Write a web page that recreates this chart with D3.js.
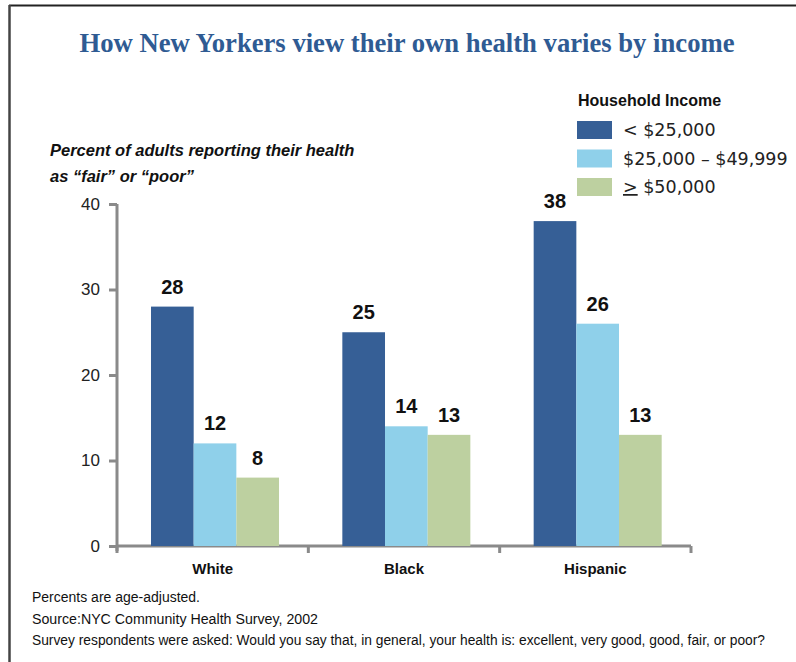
<!DOCTYPE html>
<html>
<head>
<meta charset="utf-8">
<script src="https://cdn.jsdelivr.net/npm/d3@7/dist/d3.min.js"></script>
<style>
  html, body { margin: 0; padding: 0; background: #fff; }
  svg { display: block; }
</style>
</head>
<body>
<script>
// Self-rated health by household income and race/ethnicity (NYC CHS 2002)
const groups = ["White", "Black", "Hispanic"];
const incomeBands = ["< $25,000", "$25,000 – $49,999", "≥ $50,000"];
const under25k = [28, 25, 38];
const from25to50k = [12, 14, 26];
const over50k = [8, 13, 13];
const yTicks = [0, 10, 20, 30, 40];
const colors = ["#365f96", "#8fd0ea", "#bdd0a0"];

const series = [under25k, from25to50k, over50k];
const rows = groups.map((g, i) => ({ group: g, values: series.map(s => s[i]) }));

const W = 796, H = 662;
const svg = d3.select("body").append("svg").attr("width", W).attr("height", H);

// frame: top and left rules
svg.append("line").attr("x1", 9).attr("x2", W).attr("y1", 5.5).attr("y2", 5.5)
  .attr("stroke", "#222").attr("stroke-width", 2);
svg.append("line").attr("x1", 9.5).attr("x2", 9.5).attr("y1", 5).attr("y2", H)
  .attr("stroke", "#444").attr("stroke-width", 2.5);

// title
svg.append("text")
  .attr("x", 407).attr("y", 52)
  .attr("text-anchor", "middle")
  .attr("font-family", "'Liberation Serif', 'DejaVu Serif', serif")
  .attr("font-weight", "bold")
  .attr("font-size", 28)
  .attr("fill", "#2f5b93")
  .attr("textLength", 655).attr("lengthAdjust", "spacingAndGlyphs")
  .text("How New Yorkers view their own health varies by income");

// scales
const x0 = d3.scaleBand().domain(groups).range([117, 691]).padding(0);
const x1 = d3.scaleBand().domain(d3.range(3)).range([0, x0.bandwidth()])
  .paddingInner(0).paddingOuter(0.742).align(0.537);
const y = d3.scaleLinear().domain([0, 40]).range([546, 204]);

// y axis
const yAxis = d3.axisLeft(y).tickValues(yTicks).tickSize(8).tickPadding(9);
const gy = svg.append("g").attr("transform", "translate(117,0)").call(yAxis);
gy.select(".domain").attr("d", `M0,${y(40)}V${y(0) + 5}`);
gy.selectAll(".domain, .tick line").attr("stroke", "#8a8a8a").attr("stroke-width", 3);
gy.selectAll(".tick text")
  .attr("font-family", "'Liberation Sans', Arial, sans-serif")
  .attr("font-size", 17).attr("fill", "#222");

// x axis: ticks at band boundaries
const boundaries = groups.map(g => x0(g)).concat([x0.range()[1]]);
const gx = svg.append("g");
gx.append("line").attr("x1", 117).attr("x2", 691).attr("y1", y(0)).attr("y2", y(0))
  .attr("stroke", "#8a8a8a").attr("stroke-width", 3);
gx.selectAll("line.tk").data(boundaries).join("line").attr("class", "tk")
  .attr("x1", d => d).attr("x2", d => d)
  .attr("y1", y(0)).attr("y2", y(0) + 7)
  .attr("stroke", "#8a8a8a").attr("stroke-width", 3);
gx.selectAll("text").data(groups).join("text")
  .attr("x", d => x0(d) + x0.bandwidth() / 2)
  .attr("y", 574)
  .attr("text-anchor", "middle")
  .attr("font-family", "'Liberation Sans Narrow', 'Liberation Sans', Arial, sans-serif")
  .attr("font-weight", "bold")
  .attr("font-size", 15).attr("fill", "#111")
  .text(d => d);

// bars
const gGroups = svg.append("g").selectAll("g").data(rows).join("g")
  .attr("transform", d => `translate(${x0(d.group)},0)`);
gGroups.selectAll("rect").data(d => d.values).join("rect")
  .attr("x", (d, i) => x1(i))
  .attr("width", x1.bandwidth())
  .attr("y", d => y(d))
  .attr("height", d => y(0) - y(d))
  .attr("fill", (d, i) => colors[i]);
gGroups.selectAll("text").data(d => d.values).join("text")
  .attr("x", (d, i) => x1(i) + x1.bandwidth() / 2)
  .attr("y", d => y(d) - 13)
  .attr("text-anchor", "middle")
  .attr("font-family", "'Liberation Sans', Arial, sans-serif")
  .attr("font-weight", "bold")
  .attr("font-size", 20).attr("fill", "#111")
  .text(d => d);

// y axis caption
const cap = svg.append("text")
  .attr("font-family", "'Liberation Sans', Arial, sans-serif")
  .attr("font-style", "italic").attr("font-weight", "bold")
  .attr("font-size", 16.5).attr("fill", "#111");
cap.append("tspan").attr("x", 50).attr("y", 156).text("Percent of adults reporting their health");
cap.append("tspan").attr("x", 50).attr("y", 182).text("as “fair” or “poor”");

// legend
const legend = svg.append("g");
legend.append("text").attr("x", 578).attr("y", 106)
  .attr("font-family", "'Liberation Sans', Arial, sans-serif")
  .attr("font-weight", "bold").attr("font-size", 16).attr("fill", "#111")
  .text("Household Income");
const items = legend.selectAll("g.item").data(incomeBands).join("g").attr("class", "item")
  .attr("transform", (d, i) => `translate(577,${121 + i * 28.5})`);
items.append("rect").attr("width", 35).attr("height", 18).attr("fill", (d, i) => colors[i]);
items.append("text").attr("x", 46).attr("y", 15)
  .attr("font-family", "'DejaVu Sans', 'Liberation Sans', Arial, sans-serif")
  .attr("font-size", 17.5).attr("fill", "#222")
  .each(function (d, i) {
    const t = d3.select(this);
    if (i === 2) {
      t.append("tspan").attr("text-decoration", "underline").text(">");
      t.append("tspan").text(d.slice(1));
    } else {
      t.text(d);
    }
  });

// notes
const notes = [
  "Percents are age-adjusted.",
  "Source:NYC Community Health Survey, 2002",
  "Survey respondents were asked: Would you say that, in general, your health is: excellent, very good, good, fair, or poor?"
];
const noteLen = [168, 286, 733];
svg.append("g").selectAll("text").data(notes).join("text")
  .attr("x", 32).attr("y", (d, i) => 602 + i * 21.5)
  .attr("font-family", "'Liberation Sans Narrow', 'Liberation Sans', Arial, sans-serif")
  .attr("font-size", 14).attr("fill", "#111")
  .attr("textLength", (d, i) => noteLen[i]).attr("lengthAdjust", "spacingAndGlyphs")
  .text(d => d);
</script>
</body>
</html>
